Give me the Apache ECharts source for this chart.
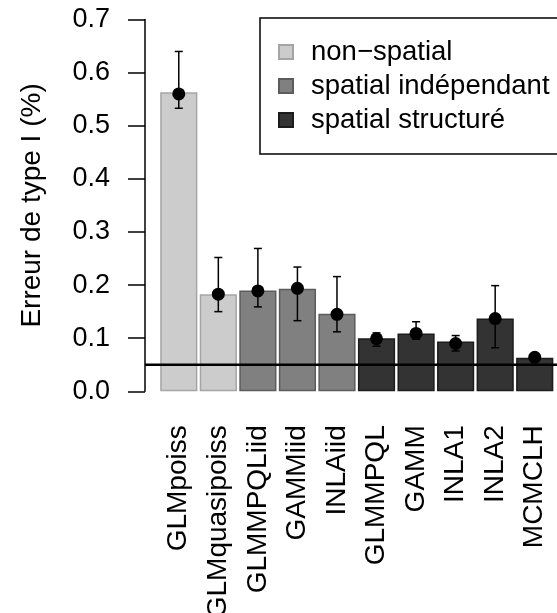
<!DOCTYPE html>
<html>
<head>
<meta charset="utf-8">
<script src="https://cdn.jsdelivr.net/npm/echarts@6/dist/echarts.min.js"></script>
<style>
  html, body { margin: 0; padding: 0; background: #fff; }
  #chart { width: 557px; height: 613px; }
</style>
</head>
<body>
<div id="chart"></div>
<script>
// donnees
const categories = ['GLMpoiss', 'GLMquasipoiss', 'GLMMPQLiid', 'GAMMiid', 'INLAiid', 'GLMMPQL', 'GAMM', 'INLA1', 'INLA2', 'MCMCLH']
const groupNames = ['non\u2212spatial', 'spatial indépendant', 'spatial structuré']
const groupOf = [0, 0, 1, 1, 1, 2, 2, 2, 2, 2]
const barValues = [0.563, 0.183, 0.190, 0.193, 0.146, 0.100, 0.109, 0.094, 0.137, 0.063]
const pointValues = [0.560, 0.183, 0.189, 0.194, 0.145, 0.099, 0.109, 0.090, 0.137, 0.064]
const errLow = [0.533, 0.150, 0.159, 0.133, 0.112, 0.085, 0.098, 0.076, 0.082, 0.059]
const errHigh = [0.640, 0.252, 0.269, 0.234, 0.216, 0.110, 0.131, 0.105, 0.199, 0.068]
const threshold = 0.05
const yTicks = [0, 0.1, 0.2, 0.3, 0.4, 0.5, 0.6, 0.7]

const fills = ['#cccccc', '#808080', '#333333']
const borders = ['#a5a5a5', '#5c5c5c', '#1c1c1c']
const font = 'Liberation Sans, Arial, sans-serif'

const chart = echarts.init(document.getElementById('chart'))

const barSeries = groupNames.map((name, g) => ({
  name: name,
  type: 'bar',
  xAxisIndex: 1,
  yAxisIndex: 1,
  stack: 'bars',
  barCategoryGap: '6%',
  itemStyle: { color: fills[g], borderColor: borders[g], borderWidth: 1.5 },
  data: barValues.map((v, i) => (groupOf[i] === g ? v : '-')),
  z: 2
}))

const option = {
  animation: false,
  backgroundColor: '#fff',
  textStyle: { fontFamily: font },
  grid: [
    { left: 145, right: 0, top: 19.6, bottom: 221.7, outerBoundsMode: 'none' },
    { left: 159, right: 2.5, top: 19.6, bottom: 221.7, outerBoundsMode: 'none' }
  ],
  legend: {
    orient: 'vertical',
    left: 260,
    top: 18,
    padding: [20, 30, 20, 18],
    itemGap: 6,
    itemWidth: 14,
    itemHeight: 14,
    icon: 'rect',
    borderColor: '#000',
    borderWidth: 1.5,
    textStyle: { fontSize: 27.5, color: '#000', fontFamily: font, padding: [0, 0, 0, 13] },
    data: groupNames
  },
  xAxis: [
    { gridIndex: 0, type: 'value', min: 0, max: 1, show: false },
    {
      gridIndex: 1,
      type: 'category',
      data: categories,
      axisLine: { show: false },
      axisTick: { show: false },
      axisLabel: { interval: 0, rotate: 90, fontSize: 28, color: '#000', margin: 34 }
    }
  ],
  yAxis: [
    {
      gridIndex: 0,
      type: 'value',
      min: 0,
      max: 0.7,
      interval: 0.1,
      name: 'Erreur de type I (%)',
      nameLocation: 'middle',
      nameRotate: 90,
      nameGap: 99,
      nameTextStyle: { fontSize: 28, color: '#000' },
      splitLine: { show: false },
      axisLine: { show: true, lineStyle: { color: '#000', width: 1.5 } },
      axisTick: { show: true, length: 17, lineStyle: { color: '#000', width: 1.5 } },
      axisLabel: {
        fontSize: 27,
        color: '#000',
        margin: 35,
        formatter: v => yTicks.find(t => Math.abs(t - v) < 1e-9).toFixed(1)
      }
    },
    { gridIndex: 1, type: 'value', min: 0, max: 0.7, show: false }
  ],
  series: barSeries.concat([
    {
      name: 'seuil',
      type: 'line',
      xAxisIndex: 0,
      yAxisIndex: 0,
      symbol: 'none',
      lineStyle: { color: '#000', width: 2.5 },
      data: [[0, threshold], [1, threshold]],
      z: 4
    },
    {
      name: 'erreurs',
      type: 'custom',
      xAxisIndex: 1,
      yAxisIndex: 1,
      z: 5,
      data: categories.map((c, i) => [i, errLow[i], errHigh[i]]),
      renderItem: (params, api) => {
        const x = api.value(0)
        const lo = api.coord([x, api.value(1)])
        const hi = api.coord([x, api.value(2)])
        const half = 4
        const style = { stroke: '#000', lineWidth: 1.5 }
        return {
          type: 'group',
          children: [
            { type: 'line', shape: { x1: lo[0], y1: lo[1], x2: hi[0], y2: hi[1] }, style: style },
            { type: 'line', shape: { x1: lo[0] - half, y1: lo[1], x2: lo[0] + half, y2: lo[1] }, style: style },
            { type: 'line', shape: { x1: hi[0] - half, y1: hi[1], x2: hi[0] + half, y2: hi[1] }, style: style }
          ]
        }
      }
    },
    {
      name: 'moyenne',
      type: 'scatter',
      xAxisIndex: 1,
      yAxisIndex: 1,
      symbol: 'circle',
      symbolSize: 13,
      itemStyle: { color: '#000', opacity: 1 },
      data: pointValues,
      z: 6
    }
  ])
}

chart.setOption(option)
</script>
</body>
</html>
